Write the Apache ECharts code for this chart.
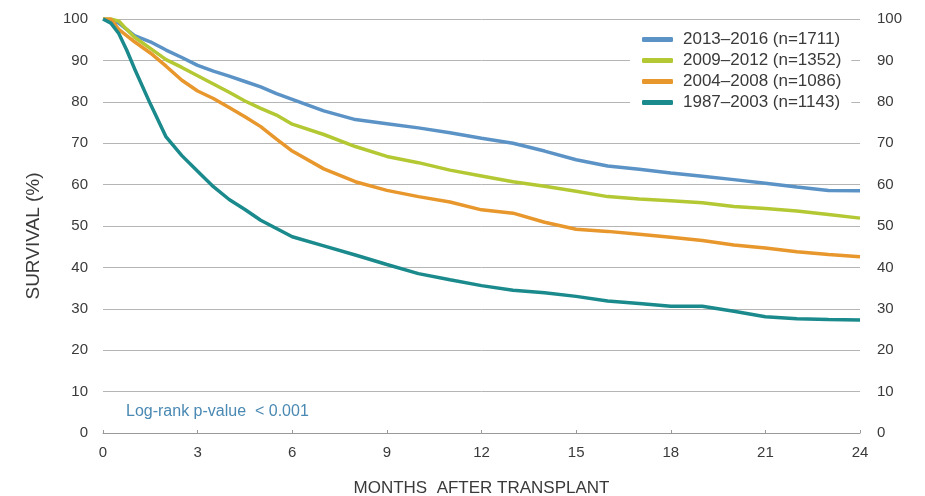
<!DOCTYPE html>
<html>
<head>
<meta charset="utf-8">
<script src="https://cdn.jsdelivr.net/npm/echarts@6/dist/echarts.min.js"></script>
<style>
html,body{margin:0;padding:0;background:#fff;}
#chart{width:925px;height:496px;}
</style>
</head>
<body>
<div id="chart"></div>
<script>
const months = [0, 0.25, 0.5, 0.75, 1, 1.5, 2, 2.5, 3, 3.5, 4, 4.5, 5, 5.5, 6, 7, 8, 9, 10, 11, 12, 13, 14, 15, 16, 17, 18, 19, 20, 21, 22, 23, 24];
const seriesNames = ['2013\u20132016 (n=1711)', '2009\u20132012 (n=1352)', '2004\u20132008 (n=1086)', '1987\u20132003 (n=1143)'];
const s2013 = [100, 99.8, 99, 97.5, 96, 94.5, 92.5, 90.7, 88.8, 87.4, 86.2, 84.9, 83.6, 82, 80.6, 77.8, 75.7, 74.7, 73.7, 72.5, 71.2, 70, 68.1, 66, 64.5, 63.7, 62.8, 62, 61.2, 60.3, 59.4, 58.6, 58.5];
const s2009 = [100, 100, 99.5, 97.5, 95.6, 92.9, 90.2, 88.3, 86.3, 84.3, 82.3, 80.2, 78.4, 76.8, 74.6, 72.1, 69.2, 66.8, 65.3, 63.5, 62.1, 60.7, 59.6, 58.4, 57.1, 56.5, 56.1, 55.6, 54.7, 54.2, 53.6, 52.8, 51.9];
const s2004 = [100, 100, 97.5, 96, 94.5, 91.8, 88.6, 85.2, 82.6, 80.8, 78.6, 76.4, 74, 71, 68.1, 63.8, 60.7, 58.6, 57.1, 55.8, 53.9, 53.1, 50.9, 49.2, 48.7, 48, 47.3, 46.5, 45.4, 44.7, 43.8, 43.1, 42.6];
const s1987 = [100, 99, 96.5, 92.5, 88, 79.5, 71.5, 67, 63.2, 59.5, 56.4, 54, 51.4, 49.4, 47.4, 45.2, 43, 40.7, 38.5, 37, 35.6, 34.5, 33.9, 33, 31.9, 31.3, 30.6, 30.6, 29.4, 28.1, 27.6, 27.4, 27.3];
const xTicks = [0, 3, 6, 9, 12, 15, 18, 21, 24];
const yTicks = [0, 10, 20, 30, 40, 50, 60, 70, 80, 90, 100];
const xTitle = 'MONTHS  AFTER TRANSPLANT';
const yTitle = 'SURVIVAL (%)';
const note = 'Log-rank p-value  < 0.001';
const colors = ['#5b93c6', '#b3c833', '#e8972c', '#1b8a8c'];
const allData = [s2013, s2009, s2004, s1987];

const chart = echarts.init(document.getElementById('chart'));
const font = 'Liberation Sans, Arial, sans-serif';
const textColor = '#3a3a3a';
const yAxisCommon = {
  type: 'value', min: 0, max: 100, interval: 10,
  axisLine: {show: false},
  axisTick: {show: false},
  axisLabel: {color: textColor, fontSize: 15, fontFamily: font, margin: 15,
    formatter: v => yTicks.includes(v) ? String(v) : ''}
};
chart.setOption({
  animation: false,
  backgroundColor: '#fff',
  grid: {left: 103, right: 65, top: 19, bottom: 63, containLabel: false, outerBoundsMode: 'none'},
  legend: {
    data: seriesNames,
    orient: 'vertical',
    left: 630, top: 28,
    backgroundColor: '#fff',
    padding: [3, 10, 3, 12],
    itemWidth: 31, itemHeight: 5, itemGap: 4,
    icon: 'roundRect',
    textStyle: {color: textColor, fontSize: 17, fontFamily: font, padding: [0, 0, 0, 5]}
  },
  xAxis: {
    type: 'value', min: 0, max: 24, interval: 3,
    name: xTitle, nameLocation: 'middle', nameGap: 47,
    nameTextStyle: {color: textColor, fontSize: 17, fontFamily: font},
    axisLine: {show: true, lineStyle: {color: '#999', width: 1}},
    axisTick: {show: true, inside: true, length: 3, lineStyle: {color: '#999'}},
    splitLine: {show: false},
    axisLabel: {color: textColor, fontSize: 15, fontFamily: font, margin: 12,
      formatter: v => xTicks.includes(v) ? String(v) : ''}
  },
  yAxis: [
    Object.assign({}, yAxisCommon, {
      position: 'left',
      splitLine: {show: true, lineStyle: {color: '#b5b5b5', width: 1}}
    }),
    Object.assign({}, yAxisCommon, {
      position: 'right',
      splitLine: {show: false},
      axisLabel: {color: textColor, fontSize: 15, fontFamily: font, margin: 17, align: 'left',
        formatter: v => yTicks.includes(v) ? String(v) : ''}
    })
  ],
  series: seriesNames.map((n, i) => ({
    name: n, type: 'line', showSymbol: false, symbol: 'none',
    yAxisIndex: 0,
    data: months.map((m, j) => [m, allData[i][j]]),
    lineStyle: {color: colors[i], width: 3.5},
    itemStyle: {color: colors[i]},
    z: 2 + i
  })).concat([{
    type: 'line', yAxisIndex: 1, data: [], silent: true
  }]),
  graphic: [{
    type: 'text', left: 126, top: 404,
    style: {text: note, fill: '#4a89b3', fontSize: 16, fontFamily: font}
  }, {
    type: 'text', x: 34, y: 236, rotation: Math.PI / 2,
    style: {text: yTitle, fill: textColor, fontSize: 19, fontFamily: font,
      textAlign: 'center', textVerticalAlign: 'middle'}
  }]
});
</script>
</body>
</html>
